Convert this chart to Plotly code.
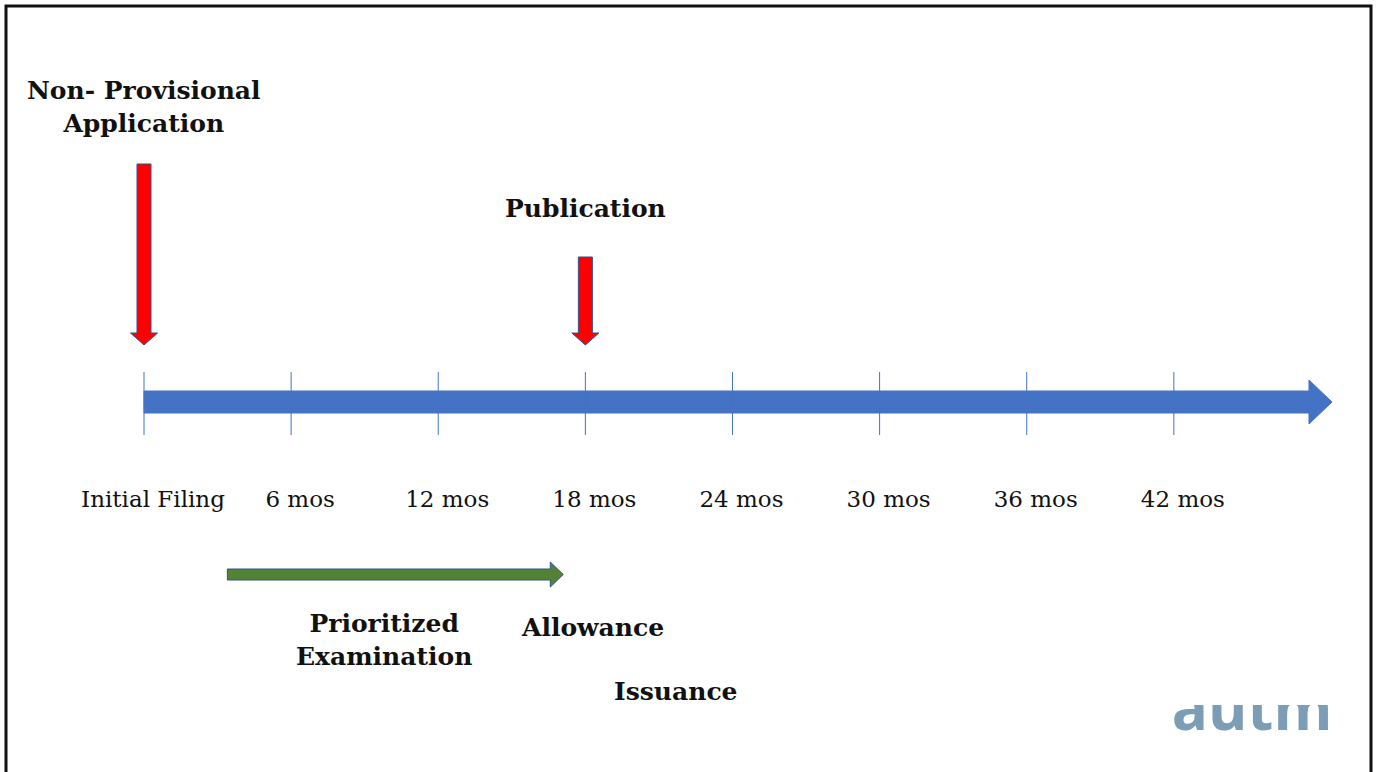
import plotly.graph_objects as go

# Timeline data (months since initial filing)
tick_months = [0, 6, 12, 18, 24, 30, 36, 42]
tick_labels = ["Initial Filing", "6 mos", "12 mos", "18 mos", "24 mos", "30 mos", "36 mos", "42 mos"]
timeline_end_month = 48.45

event_months = [0, 18]
event_labels = ["Non- Provisional<br>Application", "Publication"]

prioritized_start = 3.4
prioritized_end = 17.1

milestone_labels = ["Prioritized<br>Examination", "Allowance", "Issuance"]
milestone_months = [9.8, 18.3, 21.7]

# Page geometry (pixels)
W, H = 1376, 772
ORIGIN_PX = 144
PX_PER_MONTH = 24.52

BLUE = "#4472C4"
RED = "#FF0000"
GREEN = "#548235"
OUTLINE = "#2F528F"
SERIF = "DejaVu Serif"


def mpx(px):
    """Convert a horizontal pixel length to months."""
    return px / PX_PER_MONTH


def px_to_month(px):
    return (px - ORIGIN_PX) / PX_PER_MONTH


def h_arrow(x0, x1, yc, shaft_h, head_h, head_len):
    xs = x1 - mpx(head_len)
    xs_ = [x0, xs, xs, x1, xs, xs, x0, x0]
    ys_ = [yc - shaft_h / 2, yc - shaft_h / 2, yc - head_h / 2, yc,
           yc + head_h / 2, yc + shaft_h / 2, yc + shaft_h / 2, yc - shaft_h / 2]
    return xs_, ys_


def v_arrow(xc, y0, y1, shaft_w, head_w, head_len):
    ys = y1 - head_len
    sw, hw = mpx(shaft_w) / 2, mpx(head_w) / 2
    xs_ = [xc - sw, xc + sw, xc + sw, xc + hw, xc, xc - hw, xc - sw, xc - sw]
    ys_ = [y0, y0, ys, ys, y1, ys, ys, y0]
    return xs_, ys_


fig = go.Figure()

# Main timeline arrow
ax, ay = h_arrow(0, timeline_end_month, 402, 22, 44, 23)
fig.add_trace(go.Scatter(x=ax, y=ay, fill="toself", fillcolor=BLUE, mode="lines",
                         line=dict(color=BLUE, width=1), hoverinfo="skip"))

# Tick marks
for m in tick_months:
    fig.add_trace(go.Scatter(x=[m, m], y=[372, 435], mode="lines",
                             line=dict(color=BLUE, width=1), hoverinfo="skip"))

# Tick labels
fig.add_trace(go.Scatter(x=[m + mpx(9) for m in tick_months], y=[501] * len(tick_months),
                         mode="text", text=tick_labels, textposition="middle center",
                         textfont=dict(family=SERIF, size=23, color="#111111"), hoverinfo="skip"))

# Event arrows (red)
event_tops = [164, 257]
for m, top in zip(event_months, event_tops):
    vx, vy = v_arrow(m, top, 345, 14, 27, 12)
    fig.add_trace(go.Scatter(x=vx, y=vy, fill="toself", fillcolor=RED, mode="lines",
                             line=dict(color=OUTLINE, width=1), hoverinfo="skip"))

# Event labels
event_label_y = [107, 208]
for m, lab, y in zip(event_months, event_labels, event_label_y):
    fig.add_annotation(x=m, y=y, text="<b>" + lab + "</b>", showarrow=False,
                       font=dict(family=SERIF, size=25, color="#111111"),
                       xanchor="center", yanchor="middle")

# Prioritized examination arrow (green)
gx, gy = h_arrow(prioritized_start, prioritized_end, 574.5, 11, 25, 13)
fig.add_trace(go.Scatter(x=gx, y=gy, fill="toself", fillcolor=GREEN, mode="lines",
                         line=dict(color=OUTLINE, width=1), hoverinfo="skip"))

# Milestone labels
milestone_y = [640, 627, 691]
for m, lab, y in zip(milestone_months, milestone_labels, milestone_y):
    fig.add_annotation(x=m, y=y, text="<b>" + lab + "</b>", showarrow=False,
                       font=dict(family=SERIF, size=25, color="#111111"),
                       xanchor="center", yanchor="middle")

# Logo wordmark, only its lower part shows below the mask
fig.add_trace(go.Scatter(x=[px_to_month(1252)], y=[745], mode="text",
                         text=["<b>autm</b>"], textposition="top center",
                         textfont=dict(family="Open Sans", size=60, color="#7B9DB5"),
                         hoverinfo="skip"))
mx0, mx1 = px_to_month(1150), px_to_month(1360)
fig.add_trace(go.Scatter(x=[mx0, mx1, mx1, mx0, mx0], y=[600, 600, 705, 705, 600],
                         fill="toself", fillcolor="white", mode="lines",
                         line=dict(color="white", width=0), hoverinfo="skip"))

x_lo = -ORIGIN_PX / PX_PER_MONTH
x_hi = (W - ORIGIN_PX) / PX_PER_MONTH

# Frame
fig.add_shape(type="rect", xref="paper", yref="paper",
              x0=6 / W, x1=1371 / W, y0=-0.05, y1=1 - 6 / H,
              line=dict(color="#111111", width=3), fillcolor="rgba(0,0,0,0)", layer="above")

fig.update_layout(
    width=W, height=H, margin=dict(l=0, r=0, t=0, b=0),
    paper_bgcolor="white", plot_bgcolor="white", showlegend=False,
    xaxis=dict(range=[x_lo, x_hi], visible=False, fixedrange=True),
    yaxis=dict(range=[H, 0], visible=False, fixedrange=True),
)

fig.write_html("out.html", config={"displayModeBar": False})
